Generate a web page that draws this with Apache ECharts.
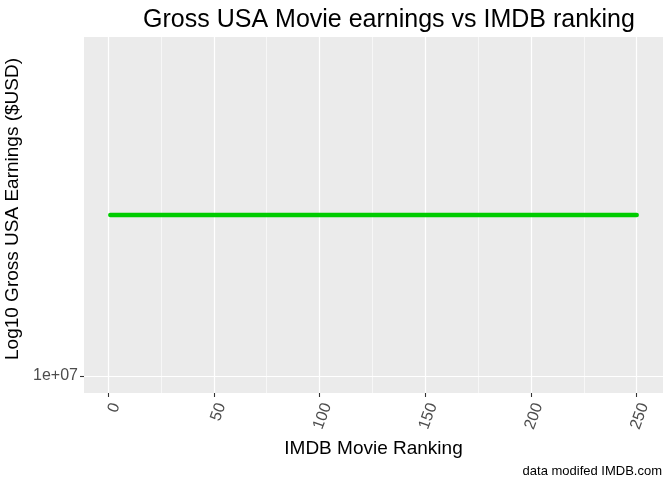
<!DOCTYPE html>
<html>
<head>
<meta charset="utf-8">
<title>Gross USA Movie earnings vs IMDB ranking</title>
<script src="https://cdn.jsdelivr.net/npm/echarts@6/dist/echarts.min.js"></script>
<style>
    html, body { margin: 0; padding: 0; background: #fff; }
    #szChart { width: 672px; height: 480px; }
</style>
</head>
<body>
<div id="szChart"></div>
<script>
// 数据：IMDB 排名 和 美国票房 (USD)
var ranking = [1, 250];
var grossUSA = [28300000, 28300000];

// 刻度
var xTickValues = [0, 50, 100, 150, 200, 250];
var xTickLabels = ['0', '50', '100', '150', '200', '250'];
var xMinorValues = [25, 75, 125, 175, 225];
var yTickValues = [10000000];
var yTickLabels = ['1e+07'];

var FONT = 'Liberation Sans, Arial, sans-serif';

function buildChart() {
    var lineData = [];
    for (var i = 0; i < ranking.length; i++) {
        lineData.push([ranking[i], Math.log10(grossUSA[i])]);
    }
    var yLogTicks = [];
    for (var j = 0; j < yTickValues.length; j++) {
        yLogTicks.push(Math.log10(yTickValues[j]));
    }
    // ggplot 的扩展：x 两侧 5%，y 只有一个值时上下各 0.5
    var xSpan = ranking[ranking.length - 1] - ranking[0];
    var xMin = ranking[0] - xSpan * 0.05;
    var xMax = ranking[ranking.length - 1] + xSpan * 0.05;
    var yMid = Math.log10(grossUSA[0]);

    var option = {
        animation: false,
        backgroundColor: '#ffffff',
        textStyle: {fontFamily: FONT},
        title: [{
            text: 'Gross USA Movie earnings vs IMDB ranking',
            left: 384,
            top: 3,
            textAlign: 'center',
            textStyle: {fontSize: 25, fontWeight: 'normal', color: '#000', fontFamily: FONT}
        }, {
            text: 'data modifed IMDB.com',
            right: 5,
            top: 460,
            textStyle: {fontSize: 13, fontWeight: 'normal', color: '#000', fontFamily: FONT}
        }],
        grid: {
            left: 84,
            right: 9,
            top: 37,
            bottom: 87,
            show: true,
            backgroundColor: '#EBEBEB',
            borderWidth: 0,
            containLabel: false,
            outerBoundsMode: 'none'
        },
        xAxis: [{
            type: 'value',
            min: xMin,
            max: xMax,
            name: 'IMDB Movie Ranking',
            nameLocation: 'middle',
            nameGap: 44,
            nameTextStyle: {fontSize: 19, color: '#000', fontFamily: FONT},
            axisLine: {show: false, onZero: false},
            axisTick: {show: true, length: 4, customValues: xTickValues, lineStyle: {color: '#333', width: 1.1}},
            axisLabel: {
                customValues: xTickValues,
                rotate: 70,
                fontSize: 16,
                color: '#4D4D4D',
                margin: 8,
                verticalAlign: 'top',
                formatter: function (v) {
                    var idx = xTickValues.indexOf(v);
                    return idx >= 0 ? xTickLabels[idx] : '';
                }
            },
            splitLine: {show: true, lineStyle: {color: '#ffffff', width: 1.2}}
        }, {
            type: 'value',
            min: xMin,
            max: xMax,
            position: 'bottom',
            axisLine: {show: false, onZero: false},
            axisTick: {show: false, customValues: xMinorValues},
            axisLabel: {show: false, customValues: xMinorValues},
            splitLine: {show: true, lineStyle: {color: '#ffffff', width: 0.6}}
        }],
        yAxis: {
            type: 'value',
            min: yMid - 0.5,
            max: yMid + 0.5,
            name: 'Log10 Gross USA Earnings ($USD)',
            nameLocation: 'middle',
            nameGap: 56,
            nameRotate: 90,
            nameTextStyle: {fontSize: 19, color: '#000', fontFamily: FONT, padding: [0, 0, 0, 12]},
            axisLine: {show: false, onZero: false},
            axisTick: {show: true, length: 4, customValues: yLogTicks, lineStyle: {color: '#333', width: 1.1}},
            axisLabel: {
                customValues: yLogTicks,
                fontSize: 16,
                color: '#4D4D4D',
                margin: 6,
                formatter: function (v) {
                    for (var k = 0; k < yLogTicks.length; k++) {
                        if (Math.abs(yLogTicks[k] - v) < 1e-9) return yTickLabels[k];
                    }
                    return '';
                }
            },
            splitLine: {show: true, lineStyle: {color: '#ffffff', width: 1.2}}
        },
        series: [{
            name: 'Gross USA',
            type: 'line',
            xAxisIndex: 0,
            showSymbol: false,
            data: lineData,
            lineStyle: {color: '#00CC00', width: 4.5, cap: 'round'}
        }]
    };
    var szChart = echarts.init(document.getElementById('szChart'));//图表
    szChart.setOption(option);
}

buildChart();
</script>
</body>
</html>
